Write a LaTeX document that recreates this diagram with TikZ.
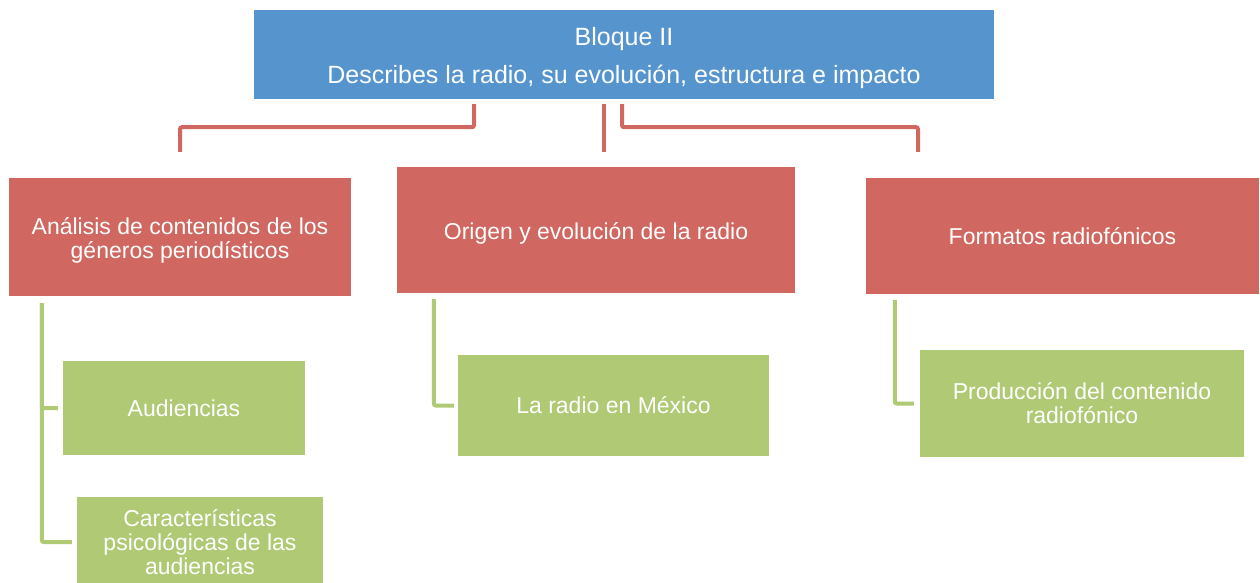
\documentclass[tikz,border=0pt]{standalone}
\usepackage{fontspec}
\setmainfont{Liberation Sans}
\definecolor{bloqueblue}{RGB}{86,148,206}
\definecolor{temared}{RGB}{208,103,96}
\definecolor{subgreen}{RGB}{176,201,116}
\tikzset{
  caja/.style={inner sep=0pt,align=center,text=white,
    font=\fontsize{23}{24}\selectfont},
  bloque/.style={caja,fill=bloqueblue,font=\fontsize{25}{27}\selectfont},
  tema/.style={caja,fill=temared},
  subtema/.style={caja,fill=subgreen},
  redlink/.style={draw=temared,line width=4pt,rounded corners=2pt},
  greenlink/.style={draw=subgreen,line width=4pt,rounded corners=2pt}
}
\begin{document}
\begin{tikzpicture}[x=1pt,y=-1pt]
  \useasboundingbox (0,0) rectangle (1260,582);
  \node[bloque,minimum width=740pt,minimum height=89pt] (top) at (624,54.5)
    {\rule{0pt}{24.5pt}Bloque II\\[11pt]Describes la radio, su evoluci\'on, estructura e impacto};
  \node[tema,minimum width=342pt,minimum height=118pt] (box1) at (180,237)
    {\rule{0pt}{23.5pt}An\'alisis de contenidos de los\\g\'eneros period\'isticos};
  \node[tema,minimum width=398pt,minimum height=126pt] (box2) at (596,230)
    {\rule{0pt}{23pt}Origen y evoluci\'on de la radio};
  \node[tema,minimum width=393pt,minimum height=116pt] (box3) at (1062.5,236)
    {Formatos radiof\'onicos};
  \node[subtema,minimum width=242pt,minimum height=94pt] (aud) at (184,408)
    {Audiencias};
  \node[subtema,minimum width=246pt,minimum height=90pt] (car) at (200,542)
    {Caracter\'isticas\\psicol\'ogicas de las\\audiencias};
  \node[subtema,minimum width=311pt,minimum height=101pt] (mex) at (613.5,405.5)
    {La radio en M\'exico};
  \node[subtema,minimum width=324pt,minimum height=107pt] (prod) at (1082,403.5)
    {Producci\'on del contenido\\radiof\'onico};
  % bloque -> temas
  \draw[redlink] ([xshift=-150pt,yshift=-5pt]top.south) -- ++(0,23)
    -| ([yshift=26pt]box1.north);
  \draw[redlink] ([xshift=-20pt,yshift=-5pt]top.south)
    -- ([xshift=8pt,yshift=15pt]box2.north);
  \draw[redlink] ([xshift=-2pt,yshift=-5pt]top.south) -- ++(0,23)
    -| ([xshift=-144.5pt,yshift=26pt]box3.north);
  % temas -> subtemas
  \draw[greenlink] ([xshift=33pt,yshift=-7pt]box1.south west) |- ([xshift=-5pt]aud.west);
  \draw[greenlink] ([xshift=33pt,yshift=-7pt]box1.south west) |- ([xshift=-5pt]car.west);
  \draw[greenlink] ([xshift=37pt,yshift=-6pt]box2.south west) |- ([xshift=-4pt]mex.west);
  \draw[greenlink] ([xshift=29pt,yshift=-6pt]box3.south west) |- ([xshift=-6pt]prod.west);
\end{tikzpicture}
\end{document}
